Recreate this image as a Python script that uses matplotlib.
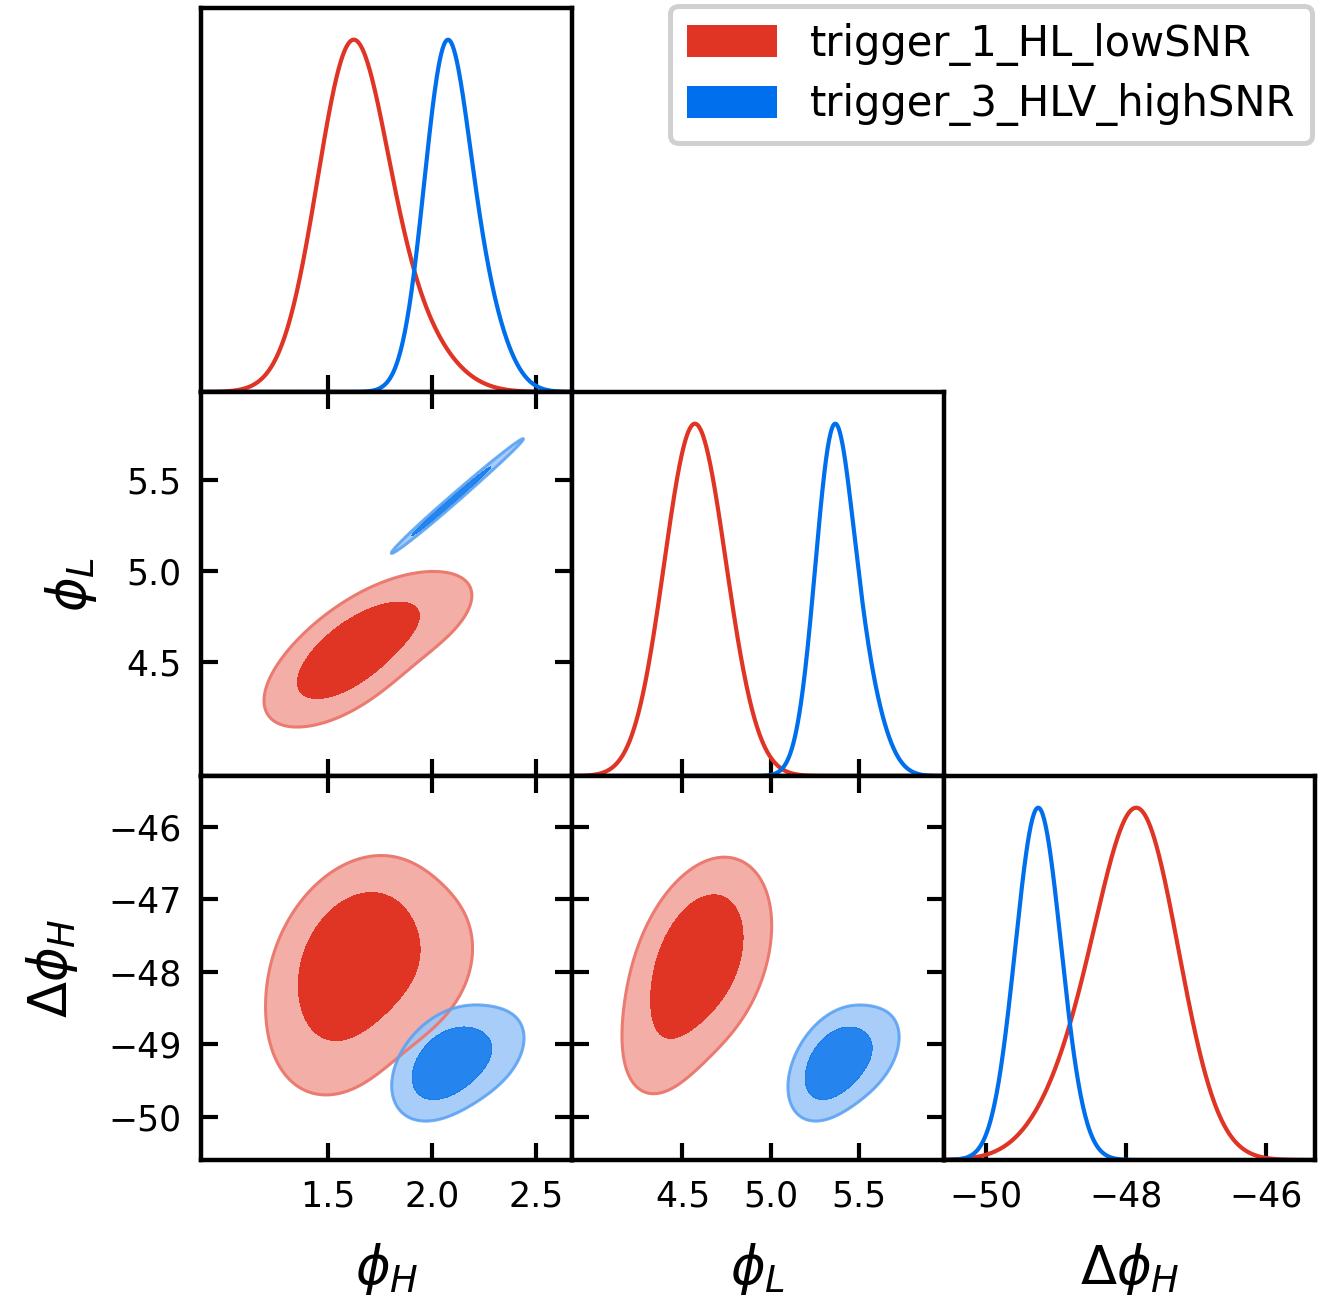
import numpy as np
import matplotlib
matplotlib.use("Agg")
import matplotlib.pyplot as plt
from matplotlib.patches import Patch

# parameter order: phi_H, phi_L, dphi_H
PARAM_LABELS = [r"$\phi_H$", r"$\phi_L$", r"$\Delta\phi_H$"]
PARAM_LIMITS = [(0.889, 2.673), (3.876, 5.980), (-50.60, -45.30)]
PARAM_TICKS = [[1.5, 2.0, 2.5], [4.5, 5.0, 5.5], [-50, -48, -46]]
DPHI_YTICKS = [-46, -47, -48, -49, -50]

# posterior of each trigger, as a small gaussian mixture
RUN_NAMES = ["trigger_1_HL_lowSNR", "trigger_3_HLV_highSNR"]
RUN_COLORS = ["#E03424", "#006FED"]

RED_WEIGHTS = [0.6, 0.2, 0.2]
RED_MEANS = [[1.62, 4.57, -47.75], [1.86, 4.72, -47.90], [1.55, 4.44, -48.60]]
RED_SIGMAS = [[0.16, 0.15, 0.55], [0.19, 0.15, 0.60], [0.17, 0.15, 0.60]]
RED_CORR = [[0.65, 0.30, 0.40], [0.55, 0.20, 0.40], [0.55, 0.20, 0.40]]   # (H-L, H-dH, L-dH)

BLUE_WEIGHTS = [0.75, 0.25]
BLUE_MEANS = [[2.06, 5.35, -49.28], [2.22, 5.51, -49.15]]
BLUE_SIGMAS = [[0.105, 0.104, 0.32], [0.12, 0.118, 0.33]]
BLUE_CORR = [[0.993, 0.38, 0.40], [0.993, 0.38, 0.40]]

CONTOUR_MASS = [0.68, 0.95]


def build_covs(sigmas, corrs):
    covs = []
    for sd, (r01, r02, r12) in zip(sigmas, corrs):
        c = np.array([[1, r01, r02], [r01, 1, r12], [r02, r12, 1]])
        s = np.diag(sd)
        covs.append(s @ c @ s)
    return covs


RUNS = [
    (RED_WEIGHTS, np.array(RED_MEANS), build_covs(RED_SIGMAS, RED_CORR)),
    (BLUE_WEIGHTS, np.array(BLUE_MEANS), build_covs(BLUE_SIGMAS, BLUE_CORR)),
]


def pdf_1d(x, run, i):
    w, mus, covs = run
    p = np.zeros_like(x)
    for wk, mu, cov in zip(w, mus, covs):
        s = np.sqrt(cov[i, i])
        p += wk * np.exp(-0.5 * ((x - mu[i]) / s) ** 2) / s
    return p


def pdf_2d(X, Y, run, i, j):
    w, mus, covs = run
    p = np.zeros_like(X)
    for wk, mu, cov in zip(w, mus, covs):
        c = cov[np.ix_([i, j], [i, j])]
        inv = np.linalg.inv(c)
        dx, dy = X - mu[i], Y - mu[j]
        q = inv[0, 0] * dx ** 2 + 2 * inv[0, 1] * dx * dy + inv[1, 1] * dy ** 2
        p += wk * np.exp(-0.5 * q) / (2 * np.pi * np.sqrt(np.linalg.det(c)))
    return p


def mass_levels(Z, cell):
    z = np.sort(Z.ravel())[::-1]
    cum = np.cumsum(z) * cell
    cum /= cum[-1]
    return [z[np.searchsorted(cum, m)] for m in sorted(CONTOUR_MASS, reverse=True)]


def pale(color, f):
    rgb = np.array(matplotlib.colors.to_rgb(color))
    return tuple(rgb * (1 - f) + f)


def style_axis(ax, row, col):
    for sp in ax.spines.values():
        sp.set_linewidth(1.6)
    ax.tick_params(direction="in", length=6, width=1.5, labelsize=12.5, pad=7)
    if row == col:
        ax.tick_params(left=False, labelleft=False, top=False, right=False)
    else:
        ax.tick_params(top=True, right=True)
        if col != 0:
            ax.tick_params(labelleft=False)
    if row != 2:
        ax.tick_params(labelbottom=False)


fig, axes = plt.subplots(3, 3, figsize=(6.64, 6.525), dpi=200)
fig.subplots_adjust(left=201 / 1328, right=1315 / 1328, top=1 - 8 / 1305,
                    bottom=1 - 1160 / 1305, wspace=0, hspace=0)

for row in range(3):
    for col in range(3):
        ax = axes[row, col]
        if col > row:
            ax.axis("off")
            continue
        ax.set_xlim(PARAM_LIMITS[col])
        ax.set_xticks(PARAM_TICKS[col])
        if row == col:
            x = np.linspace(*PARAM_LIMITS[col], 500)
            for run, color in zip(RUNS, RUN_COLORS):
                p = pdf_1d(x, run, col)
                ax.plot(x, p / p.max(), color=color, lw=1.5)
            ax.set_ylim(0, 1.09)
        else:
            ax.set_ylim(PARAM_LIMITS[row])
            ax.set_yticks(DPHI_YTICKS if row == 2 else PARAM_TICKS[row])
            for k, (run, color) in enumerate(zip(RUNS, RUN_COLORS)):
                w, mus, covs = run
                sx = max(np.sqrt(c[col, col]) for c in covs)
                sy = max(np.sqrt(c[row, row]) for c in covs)
                gx = np.linspace(mus[:, col].min() - 6 * sx, mus[:, col].max() + 6 * sx, 700)
                gy = np.linspace(mus[:, row].min() - 6 * sy, mus[:, row].max() + 6 * sy, 700)
                X, Y = np.meshgrid(gx, gy)
                Z = pdf_2d(X, Y, run, col, row)
                cell = (gx[1] - gx[0]) * (gy[1] - gy[0])
                l95, l68 = mass_levels(Z, cell)
                alpha = 1.0 if k == 0 else 0.85
                ax.contourf(X, Y, Z, levels=[l95, l68, Z.max() * 1.01],
                            colors=[pale(color, 0.6), color], alpha=alpha)
                ax.contour(X, Y, Z, levels=[l95], colors=[pale(color, 0.35)],
                           linewidths=1.1, alpha=alpha)
        style_axis(ax, row, col)
        if row == 2:
            ax.set_xlabel(PARAM_LABELS[col], fontsize=19, labelpad=10)
        if col == 0 and row > 0:
            ax.set_ylabel(PARAM_LABELS[row], fontsize=19, labelpad=10)

handles = [Patch(facecolor=c, edgecolor="none") for c in RUN_COLORS]
leg = fig.legend(handles, RUN_NAMES, loc="upper right", fontsize=15.0,
                 bbox_to_anchor=(1312 / 1328, 1 - 6 / 1305), borderaxespad=0,
                 handlelength=2.15, handleheight=0.8, handletextpad=0.8,
                 labelspacing=0.42, fancybox=True, framealpha=1)
leg.get_frame().set_edgecolor("#d0d0d0")
leg.get_frame().set_linewidth(1.8)

fig.savefig("out.png", dpi=200)
